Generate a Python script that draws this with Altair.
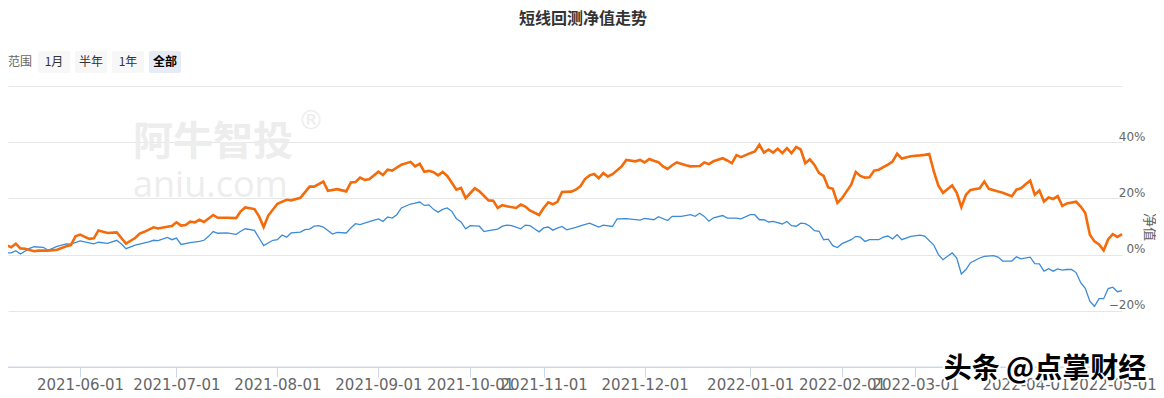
import altair as alt
import pandas as pd

# ---------------- data ----------------
title_text = "短线回测净值走势"
range_label = "范围"
buttons = ["1月", "半年", "1年", "全部"]
selected_button = "全部"
y_title = "净值"
wm_cn = "阿牛智投"
wm_en = "aniu.com"
wm_reg = "®"
footer_wm = "头条 @点掌财经"

# trading-day index of the first trading day in each month, and the labels shown
tick_days = [17, 38, 60, 82, 102, 118, 140, 163, 183, 199, 223, 242]
tick_labels = ["2021-06-01", "2021-07-01", "2021-08-01", "2021-09-01", "2021-10-01",
               "2021-11-01", "2021-12-01", "2022-01-01", "2022-02-01", "2022-03-01",
               "2022-04-01", "2022-05-01"]
y_ticks = [-0.4, -0.2, 0.0, 0.2, 0.4, 0.6]

# (trading-day index, net value change in %)
strategy = [
    (0, 0.0), (1, 3.3), (2, 2.6), (3, 3.9), (4, 2.2), (5, 2.1), (7, 1.2), (8, 1.4), (10, 1.4), (12, 1.7),
    (14, 3.0), (15, 3.4), (16, 6.5), (17, 7.1), (19, 5.6), (20, 5.8), (21, 8.6), (23, 7.7), (25, 7.9), (26, 5.9),
    (27, 3.9), (29, 5.9), (30, 7.5), (31, 8.1), (33, 9.7), (34, 9.3), (36, 9.9), (37, 10.2), (38, 11.5), (39, 10.3),
    (40, 10.5), (41, 11.7), (42, 11.5), (43, 12.4), (44, 11.6), (46, 14.1), (47, 13.1), (49, 13.1), (51, 13.0), (52, 15.4),
    (53, 16.8), (55, 16.2), (56, 13.6), (57, 9.8), (58, 13.9), (60, 18.1), (62, 19.5), (63, 19.3), (65, 20.2), (67, 24.2),
    (68, 24.2), (70, 26.0), (71, 22.7), (73, 23.3), (75, 22.5), (76, 25.7), (77, 25.8), (78, 27.4), (79, 26.6), (80, 26.8),
    (82, 29.5), (83, 28.3), (84, 30.2), (85, 29.9), (87, 32.0), (89, 33.0), (90, 31.4), (91, 32.3), (92, 29.5), (93, 29.8),
    (94, 29.3), (95, 28.2), (96, 29.4), (97, 28.0), (99, 23.1), (100, 23.7), (101, 20.1), (103, 23.6), (104, 22.5), (106, 19.3),
    (107, 19.2), (108, 16.6), (109, 17.6), (110, 17.2), (112, 16.6), (113, 17.8), (114, 17.1), (115, 15.7), (117, 14.1), (118, 16.6),
    (119, 18.6), (120, 17.9), (121, 18.8), (122, 22.3), (124, 22.4), (125, 23.1), (126, 24.3), (127, 26.9), (128, 28.2), (129, 28.7),
    (130, 27.2), (131, 29.0), (132, 27.8), (133, 28.6), (135, 31.4), (136, 33.7), (138, 33.2), (139, 33.7), (140, 32.8), (141, 34.0),
    (142, 33.4), (143, 32.9), (144, 31.4), (145, 30.5), (146, 31.8), (147, 32.8), (149, 31.8), (150, 31.4), (152, 31.5), (153, 32.8),
    (154, 32.2), (155, 33.2), (157, 34.3), (158, 33.5), (159, 32.5), (160, 35.4), (161, 34.7), (163, 36.1), (164, 36.7), (165, 39.1),
    (166, 36.3), (167, 37.4), (168, 36.3), (169, 37.7), (170, 36.1), (171, 37.9), (172, 36.1), (173, 38.3), (174, 37.4), (175, 32.5),
    (176, 33.9), (177, 31.9), (178, 29.0), (179, 28.0), (180, 23.9), (181, 23.4), (182, 18.4), (183, 20.1), (184, 22.5), (185, 24.9),
    (186, 29.4), (187, 28.0), (188, 27.4), (189, 27.5), (190, 29.9), (191, 30.2), (193, 32.0), (194, 33.1), (195, 35.9), (196, 34.2),
    (198, 35.0), (200, 35.3), (201, 35.5), (202, 35.8), (203, 29.6), (204, 24.5), (205, 22.0), (207, 24.6), (208, 22.0), (209, 16.9),
    (210, 21.3), (211, 23.0), (213, 23.6), (214, 26.0), (215, 23.4), (217, 22.5), (218, 22.0), (220, 20.8), (221, 23.1), (222, 23.6),
    (223, 25.0), (224, 26.3), (225, 21.3), (226, 22.8), (227, 18.9), (228, 20.3), (229, 19.8), (230, 20.8), (231, 17.3), (232, 18.2),
    (234, 18.8), (235, 17.1), (236, 14.8), (237, 7.1), (238, 4.7), (239, 3.6), (240, 1.5), (241, 5.5), (242, 7.3), (243, 6.3),
    (244, 7.3),
]

benchmark = [
    (0, 0.0), (1, 0.6), (2, 0.6), (3, 1.4), (4, 0.2), (6, 2.2), (7, 2.8), (9, 2.6), (10, 1.5), (12, 2.9),
    (14, 3.8), (15, 3.7), (17, 4.9), (18, 4.5), (20, 3.8), (21, 4.4), (23, 4.0), (25, 5.1), (26, 3.8), (27, 2.1),
    (29, 3.4), (32, 4.5), (33, 5.1), (34, 5.0), (36, 6.1), (37, 5.3), (38, 5.9), (39, 3.6), (41, 4.3), (43, 4.7),
    (44, 5.1), (45, 6.5), (46, 8.2), (47, 7.6), (49, 7.7), (51, 7.2), (52, 8.3), (53, 9.2), (55, 8.6), (56, 5.9),
    (57, 3.2), (59, 5.1), (60, 5.3), (61, 7.0), (62, 6.2), (63, 7.7), (65, 8.0), (66, 8.9), (67, 9.1), (68, 10.1),
    (69, 10.3), (70, 9.8), (72, 7.3), (73, 7.9), (75, 7.7), (76, 9.5), (77, 11.0), (78, 10.7), (80, 11.7), (82, 12.7),
    (83, 11.8), (84, 13.4), (85, 13.0), (86, 14.2), (87, 16.6), (89, 18.0), (90, 18.3), (91, 18.7), (92, 17.5), (93, 17.7),
    (94, 16.1), (95, 15.1), (96, 16.1), (97, 16.6), (98, 15.4), (99, 12.7), (100, 11.6), (101, 9.2), (102, 10.3), (104, 10.1),
    (105, 8.2), (106, 8.5), (108, 9.1), (109, 10.1), (110, 10.5), (111, 10.3), (113, 9.2), (114, 10.5), (115, 10.3), (116, 9.2),
    (117, 8.1), (118, 9.5), (119, 9.8), (120, 8.7), (121, 9.4), (122, 10.0), (123, 8.8), (125, 9.7), (126, 10.2), (128, 11.2),
    (129, 10.5), (130, 9.8), (131, 10.5), (133, 10.0), (134, 12.7), (136, 12.8), (139, 12.3), (140, 12.9), (142, 12.4), (143, 13.5),
    (145, 12.1), (146, 13.6), (148, 13.6), (150, 14.2), (151, 13.6), (152, 14.7), (153, 13.6), (154, 11.9), (155, 13.1), (157, 13.9),
    (158, 13.0), (160, 13.0), (161, 12.7), (163, 14.2), (164, 14.2), (165, 12.4), (166, 12.4), (167, 11.6), (168, 11.8), (170, 10.9),
    (171, 11.8), (172, 10.3), (173, 10.1), (174, 11.2), (175, 11.0), (176, 10.1), (177, 8.5), (178, 8.3), (179, 5.3), (180, 5.5),
    (181, 3.2), (182, 2.5), (183, 3.9), (185, 5.3), (186, 6.5), (187, 6.2), (188, 4.7), (189, 5.3), (191, 5.3), (192, 6.2),
    (193, 6.6), (194, 5.6), (195, 7.1), (196, 5.3), (198, 6.5), (200, 6.9), (201, 6.6), (203, 3.4), (204, 0.0), (205, -1.8),
    (206, -0.6), (207, 0.6), (208, -1.2), (209, -6.9), (210, -5.3), (211, -2.9), (213, -1.2), (214, -0.6), (216, -0.4), (217, -0.9),
    (218, -2.3), (220, -2.3), (221, -0.8), (222, -1.5), (224, -0.9), (225, -3.2), (226, -3.3), (227, -5.9), (228, -5.0), (229, -5.9),
    (230, -5.1), (231, -5.5), (232, -5.3), (233, -5.3), (234, -6.4), (235, -10.0), (236, -12.0), (237, -16.6), (238, -18.4), (239, -15.7),
    (240, -15.7), (241, -12.1), (242, -11.6), (243, -13.2), (244, -12.8),
]

# ---------------- layout / style ----------------
W, H = 1114, 281
ORANGE = "#f46b0b"
BLUE = "#3b8bd8"
GRID = "#e6e6e6"
AXIS = "#ccd6eb"
CJK = "Noto Sans CJK SC"

df_s = pd.DataFrame(strategy, columns=["day", "pct"])
df_s["value"] = df_s["pct"] / 100
df_b = pd.DataFrame(benchmark, columns=["day", "pct"])
df_b["value"] = df_b["pct"] / 100

x_scale = alt.Scale(domain=[1.3, 244], nice=False, zero=False)
y_scale = alt.Scale(domain=[-0.4, 0.6], nice=False)

label_expr = "[" + ",".join(f"'{l}'" for l in tick_labels) + "][indexof([" + \
    ",".join(str(d) for d in tick_days) + "], datum.value)]"

x_axis = alt.Axis(values=tick_days, labelExpr=label_expr, title=None, grid=False,
                  domainColor=AXIS, tickColor=AXIS, tickSize=10, labelPadding=0,
                  labelFont="DejaVu Sans", labelFontSize=15, labelColor="#666666",
                  labelFlush=False, labelOverlap=False, labelBound=False)
y_axis = alt.Axis(orient="right", values=y_ticks, title=None, grid=True, gridColor=GRID,
                  domain=False, ticks=False, tickSize=0, labelAlign="right", labelPadding=23,
                  labelBaseline="alphabetic", labelOffset=-2,
                  labelExpr="datum.value < -0.3 || datum.value > 0.5 ? '' : format(datum.value, '.0%')",
                  labelFont="DejaVu Sans", labelFontSize=12, labelColor="#666666")

bench_line = alt.Chart(df_b).mark_line(color=BLUE, strokeWidth=1.3).encode(
    x=alt.X("day:Q", scale=x_scale, axis=x_axis),
    y=alt.Y("value:Q", scale=y_scale, axis=y_axis),
)
strat_line = alt.Chart(df_s).mark_line(color=ORANGE, strokeWidth=2.6).encode(
    x=alt.X("day:Q", scale=x_scale),
    y=alt.Y("value:Q", scale=y_scale),
)

full_axis = alt.Chart().mark_rule(color=AXIS, strokeWidth=1).encode(
    x=alt.value(0), x2=alt.value(1140), y=alt.value(H))


def txt(text, x, y, **kw):
    return alt.Chart().mark_text(text=text, **kw).encode(x=alt.value(x), y=alt.value(y))


layers = []
# watermark
layers.append(txt(wm_cn, 125, 57, font=CJK, fontSize=40, fontWeight="bold", color="#ededed",
                  align="left", baseline="middle"))
layers.append(txt(wm_reg, 303, 35, font="DejaVu Sans", fontSize=26, color="#ededed",
                  align="center", baseline="middle"))
layers.append(txt(wm_en, 125, 111, font="Open Sans", fontSize=36, color="#ededed",
                  align="left", baseline="alphabetic"))
layers.append(full_axis)
layers.append(bench_line)
layers.append(strat_line)

# title
layers.append(txt(title_text, 575, -67, font=CJK, fontSize=16, fontWeight="bold",
                  color="#333333", align="center", baseline="middle"))
# range selector
layers.append(txt(range_label, 0, -24, font=CJK, fontSize=12, color="#666666",
                  align="left", baseline="middle"))
btn_left = 30
for i, b in enumerate(buttons):
    x0 = btn_left + i * 37
    sel = b == selected_button
    layers.append(alt.Chart().mark_rect(color="#e6ebf5" if sel else "#f7f7f7", cornerRadius=2).encode(
        x=alt.value(x0), x2=alt.value(x0 + 32), y=alt.value(-35), y2=alt.value(-13)))
    layers.append(txt(b, x0 + 16, -24, font=CJK, fontSize=12,
                      fontWeight="bold" if sel else "normal",
                      color="#000000" if sel else "#333333", align="center", baseline="middle"))
# y axis title
layers.append(txt(y_title, 1141, 141, font=CJK, fontSize=14, color="#666666", angle=90,
                  align="center", baseline="middle"))
# footer watermark (white halo then black text)
layers.append(txt(footer_wm, 1037, 284, font=CJK, fontSize=28, fontWeight="bold", color="#ffffff",
                  stroke="#ffffff", strokeWidth=4, align="center", baseline="middle"))
layers.append(txt(footer_wm, 1037, 284, font=CJK, fontSize=28, fontWeight="bold", color="#000000",
                  align="center", baseline="middle"))

chart = alt.layer(*layers).properties(
    width=W, height=H,
    autosize=alt.AutoSizeParams(type="none"),
    padding={"left": 0, "top": 78, "right": 34, "bottom": 25},
).configure_view(stroke=None)

chart.save("out.html", embed_options={"renderer": "svg", "actions": False})
